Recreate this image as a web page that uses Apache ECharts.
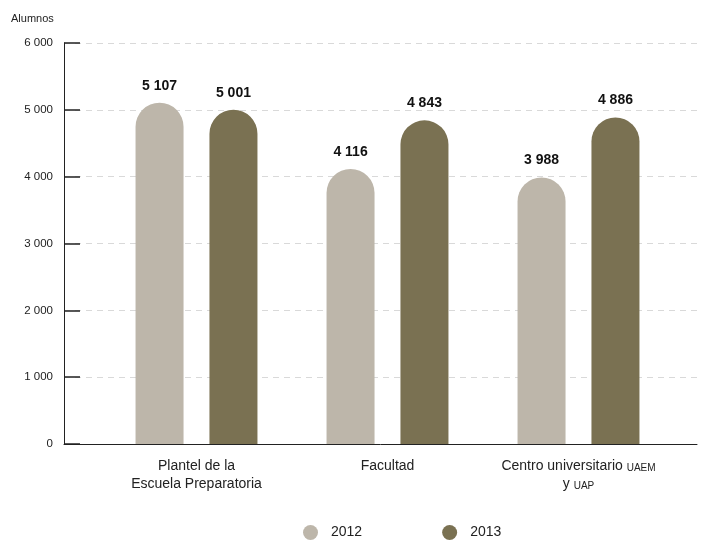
<!DOCTYPE html>
<html><head><meta charset="utf-8">
<script src="https://cdn.jsdelivr.net/npm/echarts@6/dist/echarts.min.js"></script>
<style>html,body{margin:0;padding:0;background:#fff}#c{width:718px;height:540px}</style>
</head><body><div id="c"></div>
<script>
var categories = ['{n|Plantel de la}\n{n|Escuela Preparatoria}', '{n|Facultad}', '{n|Centro universitario }{s|UAEM}\n{n|y }{s|UAP}'];
var series2012 = [5107, 4116, 3988];
var series2013 = [5001, 4843, 4886];
var seriesNames = ['2012', '2013'];
var yTicks = [0, 1000, 2000, 3000, 4000, 5000, 6000];

var FONT = '"Liberation Sans", Arial, sans-serif';
function fmt(v){ return String(v).replace(/\B(?=(\d{3})+(?!\d))/g, ' '); }

var chart = echarts.init(document.getElementById('c'));
chart.setOption({
  animation: false,
  textStyle: {fontFamily: FONT},
  graphic: [{type:'text', left: 11, top: 13, style:{text:'Alumnos', font:'11px ' + FONT, fill:'#222'}}],
  legend: {
    bottom: 0, left: 303, padding: 0, itemGap: 80, itemWidth: 15, itemHeight: 15, icon: 'circle',
    textStyle: {fontSize: 14, color: '#222', fontFamily: FONT, padding:[0,0,0,8]},
    data: seriesNames
  },
  grid: [
    {left: 64, right: 21, top: 43, bottom: 96},
    {left: 101, right: 44, top: 43, bottom: 96}
  ],
  xAxis: [
    {gridIndex: 0, type: 'value', min: 0, max: 1, axisLine:{show:true, onZero:false, lineStyle:{color:'#222', width:1}},
     axisTick:{show:false}, axisLabel:{show:false}, splitLine:{show:false}},
    {gridIndex: 1, type: 'category', data: categories, axisLine:{show:false}, axisTick:{show:false},
     axisLabel:{interval: 0, margin: 11, fontSize: 14, color:'#222', lineHeight: 18, fontFamily: FONT,
       rich:{n:{fontSize:14, color:'#222', fontFamily:FONT, lineHeight:18, verticalAlign:'bottom'},
             s:{fontSize:10, color:'#222', fontFamily:FONT, lineHeight:14, verticalAlign:'bottom'}}}}
  ],
  yAxis: [
    {gridIndex: 0, type: 'value', min: 0, max: 6000, interval: 1000,
     axisLine:{show:true, lineStyle:{color:'#222', width:1}},
     axisTick:{show:true, inside:true, length:16, lineStyle:{color:'#222', width:1.5}},
     axisLabel:{margin: 11, fontSize: 11.5, color:'#222', fontFamily: FONT, formatter: function(v){ return yTicks.indexOf(v) >= 0 ? fmt(v) : ''; }},
     splitLine:{show:true, lineStyle:{color:'#d9d9d9', type:[6,5], width:1}}},
    {gridIndex: 1, type: 'value', min: 0, max: 6000, interval: 1000, show: false}
  ],
  series: [
    {name: seriesNames[0], type:'bar', xAxisIndex:1, yAxisIndex:1, data: series2012, barWidth: 48, barGap: '54%',
     itemStyle:{color:'#bdb6aa', borderRadius:[24,24,0,0]},
     label:{show:true, position:'top', distance: 10, fontSize: 14, fontWeight:'bold', color:'#111', fontFamily: FONT, formatter: function(p){return fmt(p.value);}}},
    {name: seriesNames[1], type:'bar', xAxisIndex:1, yAxisIndex:1, data: series2013, barWidth: 48, barGap: '54%',
     itemStyle:{color:'#7a7152', borderRadius:[24,24,0,0]},
     label:{show:true, position:'top', distance: 10, fontSize: 14, fontWeight:'bold', color:'#111', fontFamily: FONT, formatter: function(p){return fmt(p.value);}}}
  ]
});
</script>
</body></html>
